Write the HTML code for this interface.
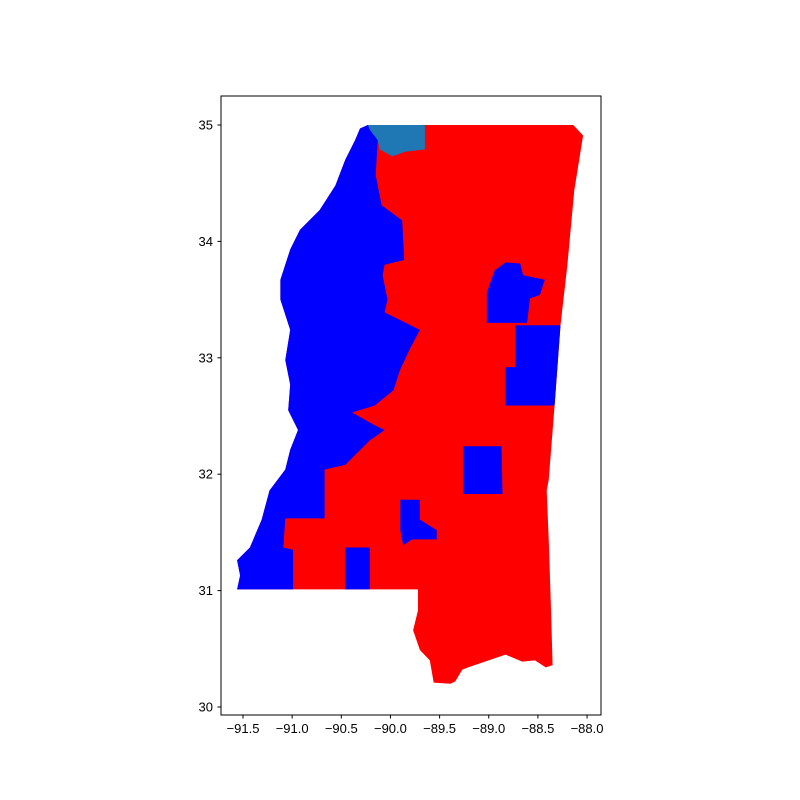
<!DOCTYPE html>
<html><head><meta charset="utf-8"><style>
body{margin:0;background:#fff}
svg{display:block;font-family:"Liberation Sans",sans-serif}
</style></head><body>
<svg id="chart" width="800" height="800" viewBox="0 0 800 800">
<rect width="800" height="800" fill="#fff"/>
<g id="regions"></g>
<rect x="221" y="96" width="380" height="619" fill="none" stroke="#000" stroke-width="1"/>
<g id="xticks"></g>
<g id="yticks"></g>
</svg>
<script>
const xTickValues=[-91.5,-91.0,-90.5,-90.0,-89.5,-89.0,-88.5,-88.0];
const xTickLabels=["−91.5","−91.0","−90.5","−90.0","−89.5","−89.0","−88.5","−88.0"];
const yTickValues=[30,31,32,33,34,35];
const yTickLabels=["30","31","32","33","34","35"];
const regionNames=["state-red","blue-delta","teal-county","blue-county-a","blue-county-b","blue-county-c","blue-county-d","blue-county-e"];
const regionColors=["#ff0000","#0000ff","#1f77b4","#0000ff","#0000ff","#0000ff","#0000ff","#0000ff"];
const westEdge=[[-91.56,31.01],[-91.53,31.13],[-91.56,31.26],[-91.43,31.37],[-91.31,31.61],[-91.23,31.86],[-91.07,32.04],[-91.02,32.21],[-90.94,32.38],[-91.04,32.55],[-91.02,32.77],[-91.07,32.98],[-91.02,33.24],[-91.12,33.5],[-91.12,33.67],[-91.02,33.93],[-90.92,34.1],[-90.72,34.27],[-90.56,34.48],[-90.46,34.7],[-90.36,34.87],[-90.31,34.97]];
const stateRegion=[[-90.23,35],[-88.14,35],[-88.04,34.91],[-88.13,34.44],[-88.2,33.8],[-88.27,33.28],[-88.33,32.59],[-88.39,31.95],[-88.41,31.86],[-88.39,31.44],[-88.37,30.92],[-88.35,30.36],[-88.42,30.34],[-88.53,30.4],[-88.66,30.39],[-88.83,30.45],[-89.21,30.34],[-89.27,30.32],[-89.34,30.22],[-89.39,30.2],[-89.56,30.21],[-89.6,30.4],[-89.7,30.49],[-89.77,30.66],[-89.72,30.83],[-89.72,31.01]].concat(westEdge);
const blueDelta=westEdge.concat([[-90.23,35],[-90.13,34.87],[-90.15,34.57],[-90.09,34.31],[-89.88,34.18],[-89.86,33.84],[-90.06,33.8],[-90.08,33.71],[-90.03,33.5],[-90.06,33.39],[-89.7,33.24],[-89.8,33.08],[-89.9,32.9],[-89.97,32.72],[-90.16,32.59],[-90.39,32.53],[-90.16,32.42],[-90.06,32.38],[-90.21,32.29],[-90.46,32.08],[-90.67,32.04],[-90.67,31.62],[-91.07,31.62],[-91.09,31.37],[-90.99,31.35],[-90.99,31.01]]);
const tealCounty=[[-90.23,35],[-89.65,35],[-89.65,34.79],[-89.85,34.77],[-89.98,34.73],[-90.11,34.79],[-90.13,34.87],[-90.21,34.96]];
const blueA=[[-90.46,31.37],[-90.21,31.37],[-90.21,31.01],[-90.46,31.01]];
const blueB=[[-89.9,31.78],[-89.7,31.78],[-89.7,31.61],[-89.53,31.52],[-89.53,31.44],[-89.78,31.44],[-89.87,31.39],[-89.9,31.52]];
const blueC=[[-89.26,32.24],[-88.87,32.24],[-88.86,31.83],[-89.26,31.83]];
const blueD=[[-88.73,33.28],[-88.27,33.28],[-88.33,32.59],[-88.83,32.59],[-88.83,32.92],[-88.73,32.92]];
const blueE=[[-89.02,33.56],[-88.94,33.75],[-88.83,33.82],[-88.68,33.81],[-88.65,33.71],[-88.43,33.67],[-88.48,33.54],[-88.58,33.51],[-88.61,33.3],[-89.02,33.3]];
const regions=[stateRegion,blueDelta,tealCounty,blueA,blueB,blueC,blueD,blueE];

const X=lon=>243+(lon+91.5)*98.3;
const Y=lat=>125+(35-lat)*116.4;
const NS="http://www.w3.org/2000/svg";
const g=document.getElementById('regions');
regions.forEach((r,i)=>{
  const p=document.createElementNS(NS,'polygon');
  p.setAttribute('points',r.map(d=>X(d[0]).toFixed(1)+','+Y(d[1]).toFixed(1)).join(' '));
  p.setAttribute('fill',regionColors[i]);
  
  
  g.appendChild(p);
});
const xg=document.getElementById('xticks');
xTickValues.forEach((v,i)=>{
  const x=X(v);
  const l=document.createElementNS(NS,'line');
  l.setAttribute('x1',x);l.setAttribute('x2',x);l.setAttribute('y1',715);l.setAttribute('y2',718.5);l.setAttribute('stroke','#000');
  
  
  xg.appendChild(l);
  const t=document.createElementNS(NS,'text');
  t.setAttribute('x',x);t.setAttribute('y',733);t.setAttribute('text-anchor','middle');t.setAttribute('font-size','13');
  t.textContent=xTickLabels[i];
  
  
  xg.appendChild(t);
});
const yg=document.getElementById('yticks');
yTickValues.forEach((v,i)=>{
  const y=Y(v);
  const l=document.createElementNS(NS,'line');
  l.setAttribute('x1',217.5);l.setAttribute('x2',221);l.setAttribute('y1',y);l.setAttribute('y2',y);l.setAttribute('stroke','#000');
  
  
  yg.appendChild(l);
  const t=document.createElementNS(NS,'text');
  t.setAttribute('x',213);t.setAttribute('y',y+4.5);t.setAttribute('text-anchor','end');t.setAttribute('font-size','13');
  t.textContent=yTickLabels[i];
  
  
  yg.appendChild(t);
});
</script>
</body></html>
